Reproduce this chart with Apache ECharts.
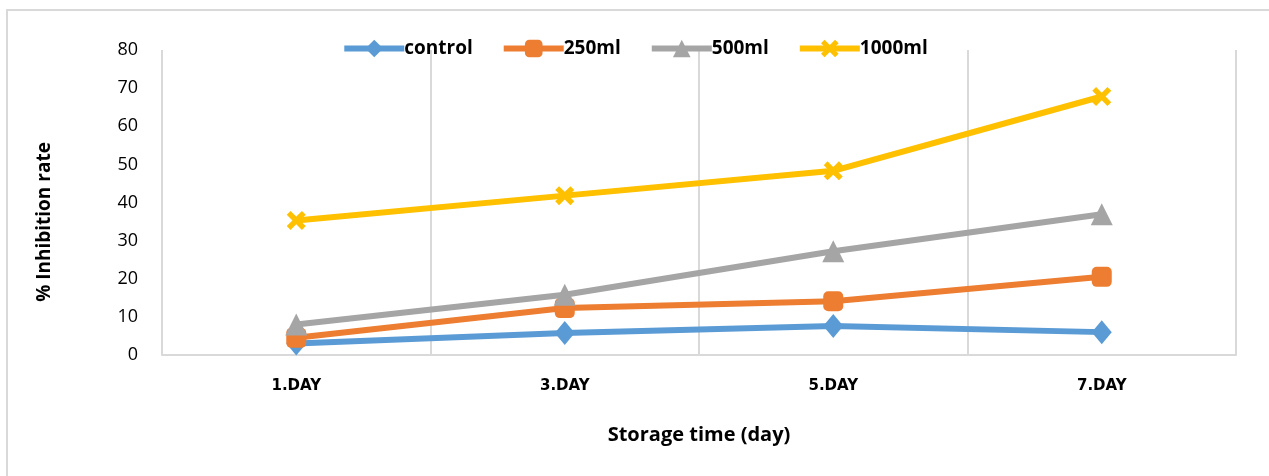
<!DOCTYPE html>
<html>
<head>
<meta charset="utf-8">
<script src="https://cdn.jsdelivr.net/npm/echarts@6/dist/echarts.min.js"></script>
<style>
html,body{margin:0;padding:0;background:#fff;}
#chart{width:1269px;height:476px;}
</style>
</head>
<body>
<div id="chart"></div>
<script>
const categories = ['1.DAY', '3.DAY', '5.DAY', '7.DAY'];
const seriesNames = ['control', '250ml', '500ml', '1000ml'];
const controlData = [3.0, 5.8, 7.6, 6.0];
const ml250Data = [4.5, 12.3, 14.1, 20.5];
const ml500Data = [8.0, 15.8, 27.2, 36.9];
const ml1000Data = [35.3, 41.8, 48.3, 67.8];
const yTicks = [0, 10, 20, 30, 40, 50, 60, 70, 80];
const yTitle = '% Inhibition rate';
const xTitle = 'Storage time (day)';

const colors = ['#5B9BD5', '#ED7D31', '#A5A5A5', '#FFC000'];
const crossPath = 'path://M0,2 L2,0 L5,3 L8,0 L10,2 L7,5 L10,8 L8,10 L5,7 L2,10 L0,8 L3,5 Z';
const symbols = ['diamond', 'roundRect', 'triangle', crossPath];
const sizes = [[20, 24], [20, 20], [22, 22], [19, 19]];
const allData = [controlData, ml250Data, ml500Data, ml1000Data];

const chart = echarts.init(document.getElementById('chart'), null, {renderer: 'canvas'});
const font = "'Open Sans', 'Liberation Sans', sans-serif";

chart.setOption({
  backgroundColor: '#fff',
  animation: false,
  graphic: [{
    type: 'rect',
    shape: {x: 7, y: 10, width: 1300, height: 500},
    style: {fill: 'none', stroke: '#d9d9d9', lineWidth: 2},
    silent: true, z: -1
  }, {
    type: 'text',
    x: 45, y: 222,
    rotation: Math.PI / 2,
    style: {text: yTitle, font: "bold 19px 'Open Sans', sans-serif", fill: '#000', align: 'center', verticalAlign: 'middle'},
    silent: true
  }],
  legend: {
    top: 34,
    left: 'center',
    itemWidth: 60,
    itemHeight: 22,
    itemGap: 28,
    lineStyle: {width: 6},
    textStyle: {fontFamily: font, fontWeight: 'bold', fontSize: 19, color: '#000', padding: [0, 0, 0, -5]},
    data: seriesNames
  },
  grid: {left: 162, right: 33, top: 50, bottom: 121, containLabel: false},
  xAxis: {
    type: 'category',
    data: categories,
    boundaryGap: true,
    name: xTitle,
    nameLocation: 'middle',
    nameGap: 70,
    nameTextStyle: {fontFamily: font, fontWeight: 'bold', fontSize: 20, color: '#000'},
    axisLine: {show: true, lineStyle: {color: '#d9d9d9', width: 2}},
    axisTick: {show: false},
    axisLabel: {fontFamily: "'DejaVu Sans', sans-serif", fontWeight: 'bold', fontSize: 15, color: '#000', margin: 24},
    splitLine: {show: true, interval: 0, lineStyle: {color: '#d9d9d9', width: 2}}
  },
  yAxis: {
    type: 'value',
    min: yTicks[0],
    max: yTicks[yTicks.length - 1],
    interval: 10,
    axisLine: {show: false},
    axisTick: {show: false},
    splitLine: {show: false},
    axisLabel: {fontFamily: font, fontSize: 18, color: '#000', margin: 24}
  },
  series: seriesNames.map((name, i) => ({
    name: name,
    type: 'line',
    data: allData[i],
    symbol: symbols[i],
    symbolSize: sizes[i],
    showAllSymbol: true,
    lineStyle: {color: colors[i], width: 6},
    itemStyle: {color: colors[i]},
    z: 2 + i
  }))
});
</script>
</body>
</html>
